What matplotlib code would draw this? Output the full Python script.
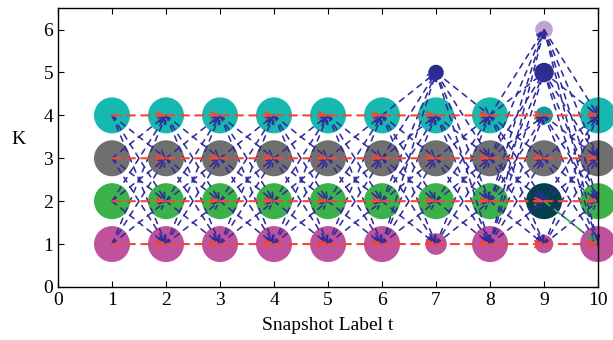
import matplotlib
matplotlib.use("Agg")
import matplotlib.pyplot as plt

plt.rcParams['font.family'] = ['Liberation Serif', 'DejaVu Serif']

# nodes (snapshot t, cluster K) and relative circle size
node_t = [1, 1, 1, 1, 2, 2, 2, 2, 3, 3, 3, 3, 4, 4, 4, 4, 5, 5, 5, 5,
          6, 6, 6, 6, 7, 7, 7, 7, 7, 8, 8, 8, 8,
          9, 9, 9, 9, 9, 9, 10, 10, 10, 10]
node_k = [1, 2, 3, 4, 1, 2, 3, 4, 1, 2, 3, 4, 1, 2, 3, 4, 1, 2, 3, 4,
          1, 2, 3, 4, 1, 2, 3, 4, 5, 1, 2, 3, 4,
          1, 2, 3, 4, 5, 6, 1, 2, 3, 4]
node_size = [1, 1, 1, 1, 1, 1, 1, 1, 1, 1, 1, 1, 1, 1, 1, 1, 1, 1, 1, 1,
             1, 1, 1, 1, 0.6, 1, 1, 1, 0.43, 1, 1, 1, 1,
             0.51, 1, 1, 0.49, 0.54, 0.49, 1, 1, 1, 1]

# special transition (green)
green_edges = [((9, 2), (10, 1))]

k_colors = {1: '#C0519D', 2: '#3BB14A', 3: '#6F6F70', 4: '#17B8B0',
            5: '#2E2B8F', 6: '#C4A3D2'}
special_colors = {(9, 2): '#063F4C', (9, 4): '#129AA6'}

blue = '#302C9C'
red = '#F04A32'
green = '#3BB14A'

fig = plt.figure(figsize=(6.13, 3.4), dpi=100)
ax = fig.add_axes([0.0946, 0.156, 0.881, 0.82])

colors = [special_colors.get((t, k), k_colors[k]) for t, k in zip(node_t, node_k)]
sizes = [(36 * 0.72 * s) ** 2 for s in node_size]
ax.scatter(node_t, node_k, s=sizes, c=colors, edgecolors='none',
           zorder=1, clip_on=False)


def arrow(src, dst, color, z, lw, dash):
    ax.annotate('', xy=dst, xytext=src, zorder=z,
                arrowprops=dict(arrowstyle='->', color=color, lw=lw,
                                linestyle=(0, dash), shrinkA=0, shrinkB=0,
                                mutation_scale=12))


nodes = list(zip(node_t, node_k))
for t in range(1, 10):
    src_nodes = [n for n in nodes if n[0] == t]
    dst_nodes = [n for n in nodes if n[0] == t + 1]
    for s in src_nodes:
        for d in dst_nodes:
            if s[1] == d[1] and s[1] <= 4:
                continue  # covered by the red same-cluster arrow
            arrow(s, d, blue, 2, 1.15, (3.5, 3.5))
for t in range(1, 10):
    for k in range(1, 5):
        arrow((t, k), (t + 1, k), red, 3, 1.5, (4, 3))
for s, d in green_edges:
    arrow(s, d, green, 2.5, 1.3, (4, 3.5))

ax.set_xlim(0, 10)
ax.set_ylim(0, 6.5)
ax.set_xticks(range(0, 11))
ax.set_yticks(range(0, 7))
ax.tick_params(direction='in', top=True, right=True, labelsize=14, length=4)
for sp in ax.spines.values():
    sp.set_linewidth(1.0)
ax.set_xlabel('Snapshot Label t', fontsize=14, labelpad=6)
ax.set_ylabel('K', fontsize=14, rotation=0, labelpad=18)

fig.savefig('out.png', dpi=100)
